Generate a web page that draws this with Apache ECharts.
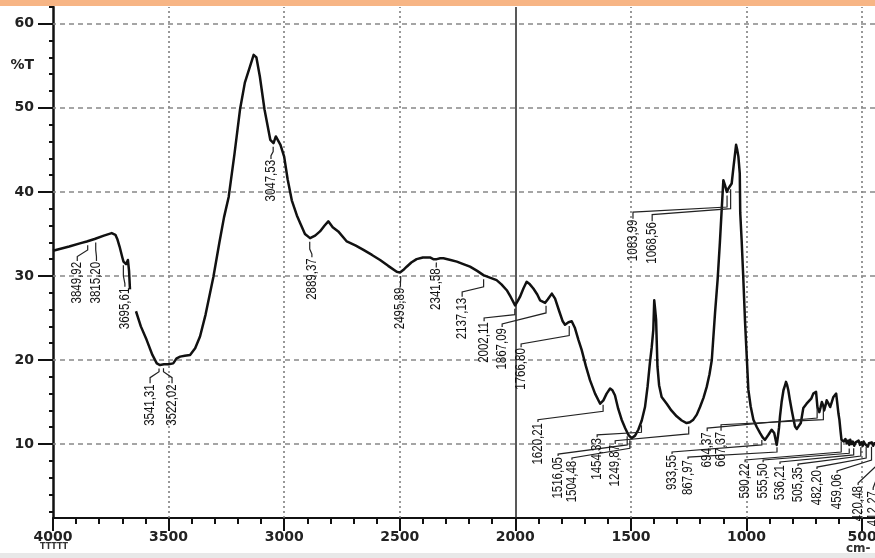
<!DOCTYPE html>
<html><head><meta charset="utf-8">
<script src="https://cdn.jsdelivr.net/npm/echarts@6/dist/echarts.min.js"></script>
<style>html,body{margin:0;padding:0;background:#fff}#c{width:875px;height:558px}</style>
</head><body><div id="c"></div>
<script>
const wavenumbers = [4000,3930,3880,3854,3820,3780,3746,3730,3722,3712,3700,3695,3684,3676,3671,3667,3655,3641,3620,3595,3570,3551,3537,3520,3500,3480,3465,3450,3430,3407,3385,3364,3340,3306,3280,3260,3240,3215,3191,3170,3148,3132,3120,3105,3085,3060,3046,3036,3016,3000,2985,2967,2945,2931,2910,2888,2866,2845,2825,2809,2790,2766,2729,2690,2657,2620,2585,2550,2513,2499,2485,2470,2450,2427,2400,2369,2355,2340,2325,2311,2280,2253,2225,2196,2165,2138,2110,2081,2060,2037,2020,2001,1990,1980,1965,1951,1937,1922,1905,1893,1871,1860,1842,1828,1810,1795,1785,1770,1756,1742,1727,1713,1695,1677,1655,1633,1619,1605,1590,1580,1569,1555,1540,1525,1511,1497,1482,1468,1453,1439,1428,1418,1410,1403,1399,1395,1391,1385,1378,1367,1345,1325,1302,1280,1259,1245,1230,1215,1201,1186,1172,1160,1150,1136,1125,1115,1108,1100,1093,1085,1078,1064,1056,1045,1040,1035,1029,1027,1021,1014,1006,999,992,982,970,955,941,930,920,905,891,880,873,869,864,859,855,848,840,833,829,824,819,812,804,797,790,782,775,765,754,740,732,720,711,703,699,693,685,680,674,668,664,658,653,645,638,631,624,617,612,607,602,598,593,589,584,579,572,566,560,555,551,545,540,534,528,521,515,509,503,497,493,487,481,475,470,464,458,452,447,444];
const transmittance = [33.0,33.5,33.9,34.1,34.4,34.8,35.1,34.9,34.4,33.5,32.2,31.7,31.4,31.9,30.6,28.4,null,25.8,24.0,22.4,20.6,19.6,19.4,19.5,19.5,19.6,20.2,20.4,20.5,20.6,21.4,22.8,25.4,29.9,34.0,37.0,39.4,44.5,49.8,53.0,54.9,56.3,56.0,53.7,49.8,46.2,45.8,46.6,45.6,44.2,41.5,39.0,37.2,36.3,35.0,34.5,34.8,35.3,36.0,36.5,35.8,35.3,34.1,33.6,33.1,32.5,31.9,31.2,30.5,30.4,30.7,31.1,31.6,32.0,32.2,32.2,32.0,32.0,32.1,32.1,31.9,31.7,31.4,31.1,30.6,30.1,29.8,29.5,29.0,28.3,27.5,26.5,27.0,27.5,28.5,29.3,29.0,28.5,27.8,27.1,26.8,27.2,27.9,27.3,25.8,24.6,24.2,24.5,24.6,23.8,22.4,21.2,19.3,17.6,16.0,14.8,15.2,16.0,16.6,16.4,15.8,14.2,12.9,11.9,11.1,10.7,11.0,11.7,12.8,14.4,16.8,19.6,21.5,23.6,27.1,26.0,24.8,19.2,17.0,15.6,14.8,14.0,13.3,12.8,12.5,12.6,12.9,13.5,14.4,15.5,16.8,18.3,20.0,25.6,29.5,34.0,37.5,41.4,40.8,40.0,40.4,41.0,43.0,45.6,45.0,44.2,42.2,37.5,34.3,29.9,24.4,20.5,16.5,14.5,12.9,12.0,11.3,10.8,10.5,11.1,11.7,11.3,10.4,9.9,10.9,12.0,13.3,15.0,16.4,17.0,17.4,17.0,16.4,15.2,14.0,13.0,12.1,11.8,11.7,12.5,14.3,14.8,15.0,15.4,16.0,16.0,16.2,14.4,13.8,14.3,15.0,14.6,14.0,14.6,15.2,14.8,14.4,15.0,15.6,15.8,16.0,14.8,13.6,12.9,11.5,10.5,10.6,10.3,10.6,10.1,10.4,9.9,10.5,10.0,10.3,9.8,10.2,10.1,10.4,9.9,10.2,9.8,10.3,10.0,10.2,9.7,10.1,9.9,10.2,9.8,10.1,10.0];
const xTickLabels = [4000,3500,3000,2500,2000,1500,1000,500];
const yTickLabels = [10,20,30,40,50,60];
const yAxisName = '%T';
const xAxisUnit = 'cm-';
const xStartMark = 'TTTTT';
// peak annotations (text = peak wavenumber)
const peakLabels = ['3849,92','3815,20','3695,61','3541,31','3522,02','3047,53','2889,37','2495,89','2341,58','2137,13','2002,11','1867,09','1766,80','1620,21','1516,05','1504,48','1454,33','1249,87','933,55','867,97','694,37','667,37','590,22','555,50','536,21','505,35','482,20','459,06','420,48','412,27','1083,99','1068,56'];
const labelWn   = [3895,3812,3689,3580,3485,3057,2880,2497,2342,2230,2135,2057,1975,1902,1815,1755,1646,1568,1322,1253,1170,1110,1006,928,855,777,695,608,517,452,1491,1408];
const labelTopT = [31.67,31.67,28.6,17.1,17.1,43.8,32.1,28.6,30.9,27.4,24.5,23.8,21.4,12.5,8.45,8.0,10.7,9.9,8.7,8.1,11.4,11.45,7.7,7.7,7.5,7.26,6.9,6.43,5.0,4.4,36.7,36.4];
const labelKinkT= [32.3,32.3,29.1,17.9,17.9,44.3,32.6,29.1,31.3,28.1,25.0,24.3,21.9,12.9,8.8,8.35,11.1,10.4,9.05,8.45,11.9,12.3,8.1,8.1,7.86,7.62,7.26,6.79,5.36,4.8,37.6,37.3];
const peakKinkT = [33.1,33.1,30.0,18.6,18.6,44.8,33.2,29.6,31.6,28.7,25.4,25.6,22.9,13.9,9.9,9.5,11.4,11.2,9.9,9.05,13.1,12.9,9.05,8.9,8.7,8.57,8.33,8.1,7.86,7.6,38.2,38.0];

const spectrum = wavenumbers.map((w,i)=>[w, transmittance[i]]);
function curveAt(w){
  for(let i=0;i<wavenumbers.length-1;i++){
    const a=wavenumbers[i], b=wavenumbers[i+1];
    if(w<=a && w>=b){
      let ta=transmittance[i], tb=transmittance[i+1];
      if(ta==null) return tb; if(tb==null) return ta;
      return ta+(tb-ta)*(a-w)/(a-b);
    }
  }
  return transmittance[transmittance.length-1];
}
const range = (a,b,s)=>{const r=[];for(let v=a;v<=b+1e-9;v+=s)r.push(+v.toFixed(3));return r;};
const labelFont = '"Liberation Sans","Arial",sans-serif';
const axisFont = {fontFamily:'DejaVu Sans',fontWeight:'bold',fontSize:14,color:'#222'};
const X_MIN=444, X_MAX=4000, Y_MIN=1.2, Y_MAX=62;

const chart = echarts.init(document.getElementById('c'), null, {renderer:'canvas'});
const gridV = xTickLabels.filter(v=>v!==2000 && v!==4000);
const option = {
  animation:false,
  backgroundColor:'#fff',
  grid:{left:53,right:0,top:7,bottom:40,containLabel:false,outerBoundsMode:'none'},
  xAxis:[
    {type:'value',inverse:true,min:X_MIN,max:X_MAX,position:'bottom',
     axisLine:{show:true,onZero:false,lineStyle:{color:'#111',width:2}},
     axisTick:{show:true,customValues:range(500,4000,100),length:6,lineStyle:{color:'#111',width:2}},
     axisLabel:{show:true,customValues:xTickLabels,margin:12,...axisFont,formatter:v=>String(v)},
     splitLine:{show:false}},
    {type:'value',inverse:true,min:X_MIN,max:X_MAX,position:'bottom',
     axisLine:{show:false},
     axisTick:{show:true,customValues:xTickLabels,length:13,lineStyle:{color:'#111',width:2}},
     axisLabel:{show:false},splitLine:{show:false}}
  ],
  yAxis:[
    {type:'value',min:Y_MIN,max:Y_MAX,position:'left',
     axisLine:{show:true,onZero:false,lineStyle:{color:'#111',width:2.5}},
     axisTick:{show:true,customValues:range(2,62,2),length:4,lineStyle:{color:'#111',width:2}},
     axisLabel:{show:false},splitLine:{show:false}},
    {type:'value',min:Y_MIN,max:Y_MAX,position:'left',
     axisLine:{show:false},
     axisTick:{show:true,customValues:yTickLabels,length:15,lineStyle:{color:'#111',width:2}},
     axisLabel:{show:true,customValues:yTickLabels.concat([55]),margin:19,...axisFont,
       formatter:v=> (v===55? yAxisName : String(v))},
     splitLine:{show:false}}
  ],
  graphic:[
    {type:'rect',left:0,top:0,shape:{width:875,height:6},style:{fill:'#F7B585'},z:100},
    {type:'rect',left:0,top:553,shape:{width:875,height:5},style:{fill:'#E8E8E8'},z:0},
    {type:'text',left:40,top:543,style:{text:xStartMark,font:'bold 8px "DejaVu Sans"',fill:'#333'}},
    {type:'text',left:846,top:543,style:{text:xAxisUnit,font:'bold 12px "DejaVu Sans"',fill:'#333'}}
  ],
  series:[
    {type:'line',data:spectrum,showSymbol:false,symbol:'none',connectNulls:false,
     lineStyle:{color:'#111',width:2.5,join:'round'},z:5,
     markLine:{silent:true,symbol:['none','none'],label:{show:false},animation:false,
       data:[
         ...gridV.map(v=>({xAxis:v,lineStyle:{color:'#777',type:[2,3],width:1.5}})),
         ...yTickLabels.map(v=>({yAxis:v,lineStyle:{color:'#888',type:[5,4],width:1.5}})),
         {xAxis:2000,lineStyle:{color:'#222',type:'solid',width:1.5}}
       ]}},
    {type:'custom',coordinateSystem:'cartesian2d',z:6,clip:false,
     data:peakLabels.map((s,i)=>[labelWn[i],labelTopT[i],i]),
     renderItem:function(params,api){
       const i=api.value(2);
       const pw=parseFloat(peakLabels[i].replace(',','.'));
       const c0=api.coord([pw,curveAt(pw)]);
       const p1=api.coord([pw,peakKinkT[i]]);
       const p2=api.coord([labelWn[i],labelKinkT[i]]);
       const p3=api.coord([labelWn[i],labelTopT[i]]);
       const pts=[[c0[0],c0[1]+4],p1,p2,[p3[0],p3[1]-1]];
       return {type:'group',children:[
         {type:'polyline',shape:{points:pts},style:{stroke:'#222',lineWidth:1.2,fill:null}},
         {type:'text',x:p3[0],y:p3[1],rotation:Math.PI/2,scaleX:0.82,
          style:{text:peakLabels[i],font:'14px '+labelFont,fill:'#111',align:'right',verticalAlign:'middle',textAlign:'right',textVerticalAlign:'middle'}}
       ]};
     }}
  ]
};
chart.setOption(option);
</script></body></html>
